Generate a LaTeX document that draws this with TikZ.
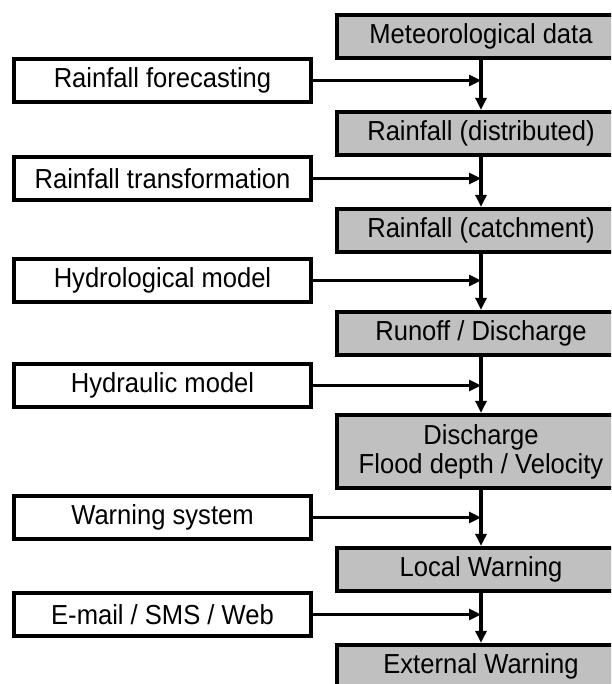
\documentclass[tikz,border=0pt]{standalone}
\usepackage{fontspec}
\setmainfont{Liberation Sans}[FakeStretch=0.93]
\usetikzlibrary{arrows.meta}
\definecolor{boxgray}{RGB}{192,192,192}
\begin{document}
\begin{tikzpicture}[x=1pt,y=-1pt,
  every node/.style={font=\fontsize{27.5}{29}\selectfont},
  procbox/.style={draw=black,line width=4.3pt,fill=white,minimum width=297pt,minimum height=43pt,inner sep=0pt,anchor=center},
  databox/.style={draw=black,line width=4.3pt,fill=boxgray,minimum width=288pt,minimum height=43pt,inner sep=0pt,anchor=center,align=center},
  conn/.style={line width=3.3pt,-{Triangle[length=12pt,width=11pt]}}]
\useasboundingbox (0,0) rectangle (611,684);
\clip (0,0) rectangle (611,684);
% data boxes (gray)
\node[databox] (g1) at (481,36.5) {Meteorological data};
\node[databox] (g2) at (481,133.5) {Rainfall (distributed)};
\node[databox] (g3) at (481,230.5) {Rainfall (catchment)};
\node[databox] (g4) at (481,333.5) {Runoff / Discharge};
\node[databox,minimum height=73pt] (g5) at (481,451.5) {Discharge\\Flood depth / Velocity};
\node[databox] (g6) at (481,569.5) {Local Warning};
\node[databox] (g7) at (481,666.5) {External Warning};
% process boxes (white)
\node[procbox] (p1) at (162.5,80.5) {Rainfall forecasting};
\node[procbox] (p2) at (162.5,178.5) {Rainfall transformation};
\node[procbox] (p3) at (162.5,280.5) {Hydrological model};
\node[procbox] (p4) at (162.5,385.5) {Hydraulic model};
\node[procbox] (p5) at (162.5,517.5) {Warning system};
\node[procbox] (p6) at (162.5,614.5) {E-mail / SMS / Web};
% vertical arrows
\draw[conn] (g1.south) -- (g2.north);
\draw[conn] (g2.south) -- (g3.north);
\draw[conn] (g3.south) -- (g4.north);
\draw[conn] (g4.south) -- (g5.north);
\draw[conn] (g5.south) -- (g6.north);
\draw[conn] (g6.south) -- (g7.north);
% horizontal arrows
\draw[conn] (p1.east) -- (p1.east -| g1.south);
\draw[conn] (p2.east) -- (p2.east -| g2.south);
\draw[conn] (p3.east) -- (p3.east -| g3.south);
\draw[conn] (p4.east) -- (p4.east -| g4.south);
\draw[conn] (p5.east) -- (p5.east -| g5.south);
\draw[conn] (p6.east) -- (p6.east -| g6.south);
\end{tikzpicture}
\end{document}
